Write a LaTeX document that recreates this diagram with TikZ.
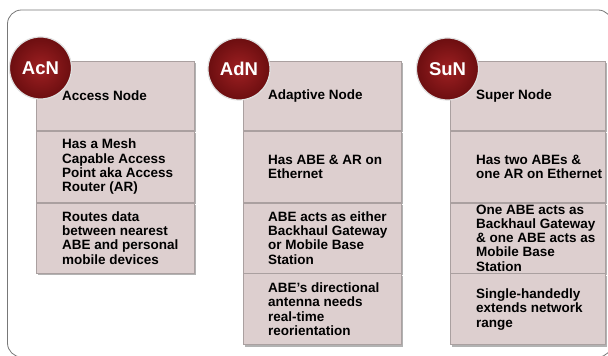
\documentclass[tikz,border=0pt]{standalone}
\usepackage{fontspec}
\setmainfont{Liberation Sans}
\usetikzlibrary{positioning,shadows}

\definecolor{nodered}{RGB}{158,32,34}
\definecolor{nodedark}{RGB}{108,14,16}
\definecolor{cellfill}{RGB}{221,207,207}
\definecolor{cellline}{RGB}{170,160,160}
\definecolor{framegray}{RGB}{120,120,120}

\tikzset{
  cell/.style={rectangle, draw=cellline, fill=cellfill, line width=0.8pt,
    inner sep=0pt, minimum width=158pt, anchor=north west,
    drop shadow={shadow xshift=1.2pt, shadow yshift=-1.8pt, fill=black!60, opacity=0.5}},
  celltext/.style={align=left, inner sep=0pt,
    font=\bfseries\fontsize{13.5}{14.3}\selectfont},
  badge/.style={circle, minimum size=62pt, inner sep=0pt,
    inner color=nodered, outer color=nodedark, draw=black!12, line width=1.2pt,
    text=white, font=\bfseries\fontsize{18.5}{20}\selectfont}
}

\begin{document}
\begin{tikzpicture}[x=1pt,y=1pt]
  \useasboundingbox (0,0) rectangle (608,356);
  \fill[white] (0,0) rectangle (608,356);
  \clip (0,0) rectangle (608,356);
  % outer frame, runs off the bottom and right edges
  \draw[framegray, line width=0.8pt, rounded corners=14pt] (7.5,-1) rectangle (612,346);

  % access node column
  \node[cell, minimum height=69pt] (acn1) at (36,295) {};
  \node[cell, minimum height=71pt, below=0pt of acn1] (acn2) {};
  \node[cell, minimum height=70pt, below=0pt of acn2] (acn3) {};
  \node[celltext, right=26pt of acn1.west] (acn1t) {Access Node};
  \node[celltext, right=26pt of acn2.west] (acn2t) {Has a Mesh\\Capable Access\\Point aka Access\\Router (AR)};
  \node[celltext, right=26pt of acn3.west] (acn3t) {Routes data\\between nearest\\ABE and personal\\mobile devices};

  % adaptive node column
  \node[cell, minimum height=69pt] (adn1) at (243,295) {};
  \node[cell, minimum height=71pt, below=0pt of adn1] (adn2) {};
  \node[cell, minimum height=70pt, below=0pt of adn2] (adn3) {};
  \node[cell, minimum height=71pt, below=0pt of adn3] (adn4) {};
  \node[celltext, right=25pt of adn1.west] (adn1t) {Adaptive Node};
  \node[celltext, right=25pt of adn2.west] (adn2t) {Has ABE \& AR on\\Ethernet};
  \node[celltext, right=25pt of adn3.west] (adn3t) {ABE acts as either\\Backhaul Gateway\\or Mobile Base\\Station};
  \node[celltext, right=25pt of adn4.west] (adn4t) {ABE's directional\\antenna needs\\real-time\\reorientation};

  % super node column
  \node[cell, minimum width=155pt, minimum height=69pt] (sun1) at (450,295) {};
  \node[cell, minimum width=155pt, minimum height=71pt, below=0pt of sun1] (sun2) {};
  \node[cell, minimum width=155pt, minimum height=70pt, below=0pt of sun2] (sun3) {};
  \node[cell, minimum width=155pt, minimum height=71pt, below=0pt of sun3] (sun4) {};
  \node[celltext, right=26pt of sun1.west] (sun1t) {Super Node};
  \node[celltext, right=26pt of sun2.west] (sun2t) {Has two ABEs \&\\one AR on Ethernet};
  \node[celltext, right=26pt of sun3.west] (sun3t) {One ABE acts as\\Backhaul Gateway\\\& one ABE acts as\\Mobile Base\\Station};
  \node[celltext, right=26pt of sun4.west] (sun4t) {Single-handedly\\extends network\\range};

  % round badges on the top left corners
  \node[badge] (acn) at (40.5,288) {AcN};
  \node[badge] (adn) at (239,287) {AdN};
  \node[badge] (sun) at (447.5,287) {SuN};
\end{tikzpicture}
\end{document}
